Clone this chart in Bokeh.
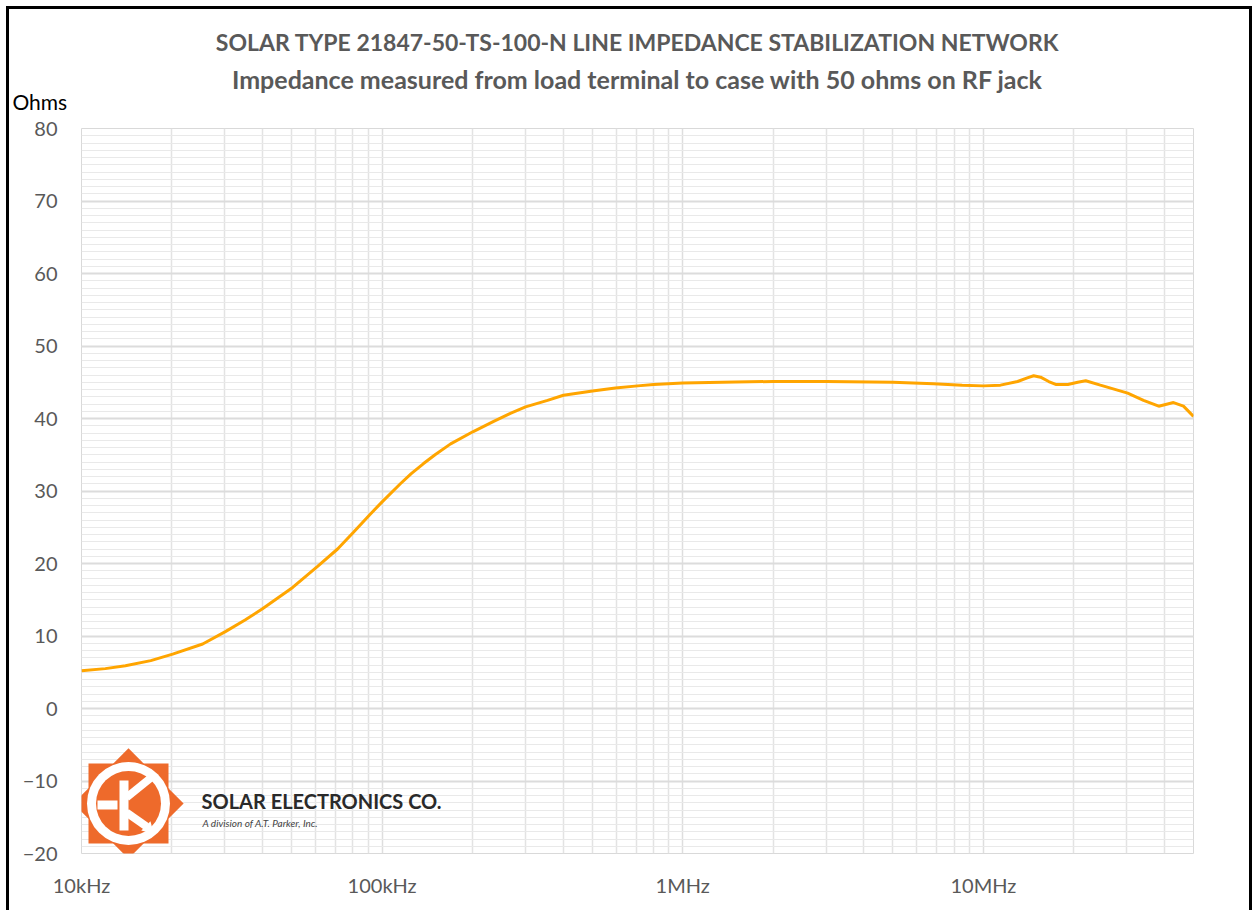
import math
from bokeh.plotting import figure
from bokeh.models import (Label, Title, SingleIntervalTicker, FixedTicker, Range1d,
                          CustomJSTickFormatter, ColumnDataSource)
from bokeh.embed import file_html
from bokeh.resources import INLINE

# ---------------- data ----------------
title_line1 = "SOLAR TYPE 21847-50-TS-100-N LINE IMPEDANCE STABILIZATION NETWORK"
title_line2 = "Impedance measured from load terminal to case with 50 ohms on RF jack"
y_unit = "Ohms"
company = "SOLAR ELECTRONICS CO."
division = "A division of A.T. Parker, Inc."

x_tick_values = [1e4, 1e5, 1e6, 1e7]
x_tick_labels = ["10kHz", "100kHz", "1MHz", "10MHz"]
x_min, x_max = 1e4, 5e7
y_min, y_max = -20, 80

freq_hz = [1.0e4, 1.2e4, 1.40e4, 1.7e4, 2.01e4, 2.53e4, 3.01e4, 3.5e4, 4.0e4, 5.04e4,
           6.10e4, 7.11e4, 8.03e4, 9.08e4, 1.0e5, 1.15e5, 1.25e5, 1.37e5, 1.5e5,
           1.69e5, 2.01e5, 2.35e5, 2.67e5, 3.0e5, 3.55e5, 4.01e5, 5.01e5, 5.97e5,
           7.08e5, 8.0e5, 1.0e6, 1.5e6, 2.0e6, 3.0e6, 5.0e6, 6.82e6, 8.5e6, 1.0e7,
           1.14e7, 1.30e7, 1.40e7, 1.47e7, 1.55e7, 1.65e7, 1.74e7, 1.91e7, 2.06e7,
           2.19e7, 2.45e7, 3.02e7, 3.41e7, 3.83e7, 4.29e7, 4.63e7, 5.0e7]
impedance_ohm = [5.2, 5.5, 5.9, 6.6, 7.5, 8.9, 10.6, 12.2, 13.75, 16.7,
                 19.6, 22.0, 24.3, 26.7, 28.5, 31.0, 32.4, 33.75, 35.0,
                 36.5, 38.2, 39.6, 40.7, 41.6, 42.5, 43.2, 43.8, 44.2,
                 44.5, 44.7, 44.9, 45.05, 45.1, 45.1, 45.0, 44.8, 44.6, 44.5,
                 44.6, 45.1, 45.6, 45.9, 45.7, 45.1, 44.7, 44.7, 45.0,
                 45.2, 44.6, 43.5, 42.5, 41.7, 42.2, 41.7, 40.3]

# ---------------- figure ----------------
FRAME_L, FRAME_R, FRAME_T, FRAME_B = 81, 1193, 128, 853   # page pixels
CANVAS_X0, CANVAS_Y0 = 9, 9
CANVAS_R, CANVAS_B = 1255, 913

p = figure(width=CANVAS_R - CANVAS_X0, height=CANVAS_B - CANVAS_Y0, x_axis_type="log",
           x_range=Range1d(x_min, x_max), y_range=Range1d(y_min, y_max),
           output_backend="svg", toolbar_location=None,
           min_border_left=FRAME_L - CANVAS_X0, min_border_right=CANVAS_R - FRAME_R,
           min_border_top=FRAME_T - CANVAS_Y0, min_border_bottom=CANVAS_B - FRAME_B)
p.styles = {"margin-left": "6px", "margin-top": "6px",
            "border-left": "3px solid #000", "border-top": "3px solid #000",
            "border-right": "3px solid #000"}
p.background_fill_color = "white"
p.border_fill_color = "white"
p.outline_line_color = "#d9d9d9"
p.outline_line_width = 1

minor_x = [m * 10 ** e for e in range(4, 8) for m in range(2, 10) if m * 10 ** e <= x_max]
xt = FixedTicker(ticks=x_tick_values, minor_ticks=minor_x)
p.xaxis.ticker = xt
p.xgrid.ticker = xt
p.xaxis.formatter = CustomJSTickFormatter(
    args=dict(vals=x_tick_values, labs=x_tick_labels),
    code="const i = vals.findIndex(v => Math.abs(v - tick) / v < 1e-6); return i >= 0 ? labs[i] : '';")
yt = SingleIntervalTicker(interval=10, num_minor_ticks=10)
p.yaxis.ticker = yt
p.ygrid.ticker = yt

p.xgrid.grid_line_color = "#dedede"
p.xgrid.grid_line_width = 1.5
p.xgrid.minor_grid_line_color = "#e3e3e3"
p.xgrid.minor_grid_line_width = 1.5
p.ygrid.grid_line_color = "#dcdcdc"
p.ygrid.grid_line_width = 2
p.ygrid.minor_grid_line_color = "#e9e9e9"
p.ygrid.minor_grid_line_width = 1

for ax in (p.xaxis[0], p.yaxis[0]):
    ax.axis_line_color = None
    ax.major_tick_line_color = None
    ax.minor_tick_line_color = None
    ax.major_label_text_font = "Lato"
    ax.major_label_text_font_size = "20px"
    ax.major_label_text_color = "#595959"
p.yaxis.major_label_standoff = 18
p.xaxis.major_label_standoff = 13

src = ColumnDataSource(dict(f=freq_hz, z=impedance_ohm))
p.line("f", "z", source=src, line_color="#FFA500", line_width=3)

# ---------------- titles (stacked above the frame) ----------------
p.add_layout(Title(text=y_unit, align="left", offset=12 - FRAME_L, standoff=30,
                   text_font="Lato", text_font_size="21px", text_font_style="normal",
                   text_color="#000000"), "above")
p.add_layout(Title(text=title_line2, align="center", standoff=-45,
                   text_font="Lato", text_font_size="25px", text_font_style="bold",
                   text_color="#595959"), "above")
p.add_layout(Title(text=title_line1, align="center", standoff=31,
                   text_font="Lato", text_font_size="23px", text_font_style="bold",
                   text_color="#595959"), "above")

# ---------------- logo (decoration) ----------------
dec = math.log10(x_max / x_min)
def fx(px):
    return 10 ** (math.log10(x_min) + (px - FRAME_L) / (FRAME_R - FRAME_L) * dec)
def fy(py):
    return y_max - (py - FRAME_T) / (FRAME_B - FRAME_T) * (y_max - y_min)

ORANGE = "#EE6A2B"
cx, cy = 128, 803
p.scatter([fx(cx)], [fy(cy)], marker="square", size=80, fill_color=ORANGE, line_color=None)
p.scatter([fx(cx)], [fy(cy)], marker="square", size=78, angle=math.pi / 4,
          fill_color=ORANGE, line_color=None)
p.scatter([fx(cx)], [fy(cy)], marker="circle", size=83, fill_color="white", line_color=None)
p.scatter([fx(cx)], [fy(cy)], marker="circle", size=65, fill_color=ORANGE, line_color=None)
# transistor symbol
p.rect([fx(123.5)], [fy(805)], width=9, height=50, width_units="screen",
       height_units="screen", fill_color="white", line_color=None)
p.rect([fx(107)], [fy(804.5)], width=20, height=9, width_units="screen",
       height_units="screen", fill_color="white", line_color=None)
p.segment([fx(126), fx(126)], [fy(797), fy(812)], [fx(152), fx(146)], [fy(776), fy(826)],
          line_color="white", line_width=8)
p.scatter([fx(148)], [fy(828)], marker="triangle", size=13, angle=-3 * math.pi / 4,
          fill_color="white", line_color=None)

def canvas_label(text, px, py, size, bold=False, italic=False, color="#595959"):
    style = "bold" if bold else ("italic" if italic else "normal")
    p.add_layout(Label(x=px - CANVAS_X0, y=py - CANVAS_Y0, x_units="canvas", y_units="canvas",
                       text=text, text_font="Lato", text_font_size=size, text_font_style=style,
                       text_color=color, text_align="left", text_baseline="middle"))

canvas_label(company, 198, 797, "20px", bold=True, color="#2a2a2a")
canvas_label(division, 199, 819, "10px", italic=True, color="#444444")

open("out.html", "w").write(file_html(p, INLINE))
